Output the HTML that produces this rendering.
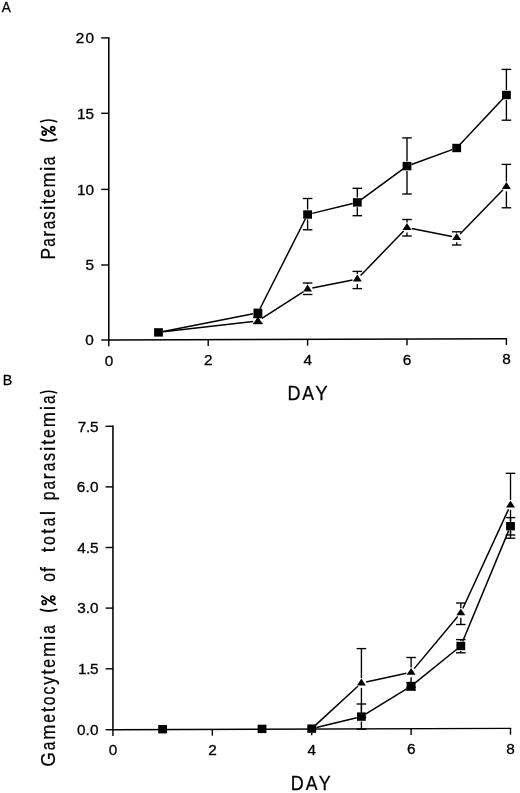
<!DOCTYPE html>
<html><head><meta charset="utf-8"><title>Figure</title>
<style>
html,body{margin:0;padding:0;background:#fff;}
body{width:520px;height:793px;overflow:hidden;font-family:"Liberation Sans",sans-serif;}
svg{display:block;}
text{font-family:"Liberation Sans",sans-serif;fill:#000;stroke:#000;stroke-width:0.3px;}
svg{will-change:transform;}
</style></head><body>
<svg width="520" height="793" viewBox="0 0 520 793">
<rect width="520" height="793" fill="#fff"/>
<line x1="108.80" y1="37.20" x2="108.80" y2="340.80" stroke="#000" stroke-width="1.55"/>
<line x1="108.80" y1="340.00" x2="507.10" y2="338.70" stroke="#000" stroke-width="1.55"/>
<line x1="101.20" y1="340.00" x2="108.80" y2="340.00" stroke="#000" stroke-width="1.4"/>
<line x1="101.20" y1="265.00" x2="108.80" y2="265.00" stroke="#000" stroke-width="1.4"/>
<line x1="101.20" y1="189.40" x2="108.80" y2="189.40" stroke="#000" stroke-width="1.4"/>
<line x1="101.20" y1="113.30" x2="108.80" y2="113.30" stroke="#000" stroke-width="1.4"/>
<line x1="101.20" y1="37.90" x2="108.80" y2="37.90" stroke="#000" stroke-width="1.4"/>
<line x1="108.80" y1="340.00" x2="108.80" y2="346.30" stroke="#000" stroke-width="1.4"/>
<line x1="208.20" y1="339.68" x2="208.20" y2="345.98" stroke="#000" stroke-width="1.4"/>
<line x1="307.60" y1="339.35" x2="307.60" y2="345.65" stroke="#000" stroke-width="1.4"/>
<line x1="407.00" y1="339.02" x2="407.00" y2="345.32" stroke="#000" stroke-width="1.4"/>
<line x1="506.40" y1="338.70" x2="506.40" y2="345.00" stroke="#000" stroke-width="1.4"/>
<text transform="translate(75.73,43.10) scale(1.03,1)" font-size="14.9" letter-spacing="1.166" font-weight="400">20</text>
<text transform="translate(77.03,118.50) scale(1.03,1)" font-size="14.9" letter-spacing="-0.055" font-weight="400">15</text>
<text transform="translate(77.03,194.60) scale(1.03,1)" font-size="14.9" letter-spacing="-0.099" font-weight="400">10</text>
<text transform="translate(85.39,270.20) scale(1.03,1)" font-size="14.9" letter-spacing="0.000" font-weight="400">5</text>
<text transform="translate(85.20,345.20) scale(1.03,1)" font-size="14.9" letter-spacing="0.000" font-weight="400">0</text>
<text transform="translate(104.63,365.50) scale(1.03,1)" font-size="14.9">0</text>
<text transform="translate(204.03,365.18) scale(1.03,1)" font-size="14.9">2</text>
<text transform="translate(303.48,364.85) scale(1.03,1)" font-size="14.9">4</text>
<text transform="translate(402.78,364.52) scale(1.03,1)" font-size="14.9">6</text>
<text transform="translate(502.23,364.20) scale(1.03,1)" font-size="14.9">8</text>
<line x1="163.21" y1="331.47" x2="253.19" y2="313.73" stroke="#000" stroke-width="1.5"/>
<line x1="260.07" y1="308.52" x2="305.43" y2="218.78" stroke="#000" stroke-width="1.5"/>
<line x1="312.26" y1="213.36" x2="352.64" y2="203.54" stroke="#000" stroke-width="1.5"/>
<line x1="361.18" y1="199.57" x2="403.12" y2="168.93" stroke="#000" stroke-width="1.5"/>
<line x1="411.51" y1="164.46" x2="452.19" y2="149.64" stroke="#000" stroke-width="1.5"/>
<line x1="459.98" y1="144.50" x2="503.12" y2="98.50" stroke="#000" stroke-width="1.5"/>
<line x1="163.27" y1="331.85" x2="253.13" y2="321.55" stroke="#000" stroke-width="1.5"/>
<line x1="261.94" y1="318.40" x2="303.56" y2="291.60" stroke="#000" stroke-width="1.5"/>
<line x1="312.31" y1="288.05" x2="352.59" y2="279.95" stroke="#000" stroke-width="1.5"/>
<line x1="360.63" y1="275.55" x2="403.67" y2="230.95" stroke="#000" stroke-width="1.5"/>
<line x1="411.71" y1="228.44" x2="451.99" y2="236.46" stroke="#000" stroke-width="1.5"/>
<line x1="460.05" y1="233.96" x2="503.05" y2="189.84" stroke="#000" stroke-width="1.5"/>
<line x1="307.60" y1="198.50" x2="307.60" y2="209.60" stroke="#000" stroke-width="1.35"/>
<line x1="307.60" y1="219.40" x2="307.60" y2="229.80" stroke="#000" stroke-width="1.35"/>
<line x1="302.80" y1="198.50" x2="312.40" y2="198.50" stroke="#000" stroke-width="1.35"/>
<line x1="302.80" y1="229.80" x2="312.40" y2="229.80" stroke="#000" stroke-width="1.35"/>
<line x1="357.30" y1="188.30" x2="357.30" y2="197.50" stroke="#000" stroke-width="1.35"/>
<line x1="357.30" y1="207.30" x2="357.30" y2="215.70" stroke="#000" stroke-width="1.35"/>
<line x1="352.50" y1="188.30" x2="362.10" y2="188.30" stroke="#000" stroke-width="1.35"/>
<line x1="352.50" y1="215.70" x2="362.10" y2="215.70" stroke="#000" stroke-width="1.35"/>
<line x1="407.00" y1="137.90" x2="407.00" y2="161.20" stroke="#000" stroke-width="1.35"/>
<line x1="407.00" y1="171.00" x2="407.00" y2="194.00" stroke="#000" stroke-width="1.35"/>
<line x1="402.20" y1="137.90" x2="411.80" y2="137.90" stroke="#000" stroke-width="1.35"/>
<line x1="402.20" y1="194.00" x2="411.80" y2="194.00" stroke="#000" stroke-width="1.35"/>
<line x1="506.40" y1="69.40" x2="506.40" y2="90.10" stroke="#000" stroke-width="1.35"/>
<line x1="506.40" y1="99.90" x2="506.40" y2="120.20" stroke="#000" stroke-width="1.35"/>
<line x1="501.60" y1="69.40" x2="511.20" y2="69.40" stroke="#000" stroke-width="1.35"/>
<line x1="501.60" y1="120.20" x2="511.20" y2="120.20" stroke="#000" stroke-width="1.35"/>
<line x1="253.10" y1="317.50" x2="262.70" y2="317.50" stroke="#000" stroke-width="1.35"/>
<line x1="253.10" y1="323.50" x2="262.70" y2="323.50" stroke="#000" stroke-width="1.35"/>
<line x1="307.60" y1="283.00" x2="307.60" y2="284.10" stroke="#000" stroke-width="1.35"/>
<line x1="307.60" y1="293.90" x2="307.60" y2="294.50" stroke="#000" stroke-width="1.35"/>
<line x1="302.80" y1="283.00" x2="312.40" y2="283.00" stroke="#000" stroke-width="1.35"/>
<line x1="302.80" y1="294.50" x2="312.40" y2="294.50" stroke="#000" stroke-width="1.35"/>
<line x1="357.30" y1="271.40" x2="357.30" y2="274.10" stroke="#000" stroke-width="1.35"/>
<line x1="357.30" y1="283.90" x2="357.30" y2="288.60" stroke="#000" stroke-width="1.35"/>
<line x1="352.50" y1="271.40" x2="362.10" y2="271.40" stroke="#000" stroke-width="1.35"/>
<line x1="352.50" y1="288.60" x2="362.10" y2="288.60" stroke="#000" stroke-width="1.35"/>
<line x1="407.00" y1="219.50" x2="407.00" y2="222.60" stroke="#000" stroke-width="1.35"/>
<line x1="407.00" y1="232.40" x2="407.00" y2="236.00" stroke="#000" stroke-width="1.35"/>
<line x1="402.20" y1="219.50" x2="411.80" y2="219.50" stroke="#000" stroke-width="1.35"/>
<line x1="402.20" y1="236.00" x2="411.80" y2="236.00" stroke="#000" stroke-width="1.35"/>
<line x1="456.70" y1="231.80" x2="456.70" y2="232.50" stroke="#000" stroke-width="1.35"/>
<line x1="456.70" y1="242.30" x2="456.70" y2="245.00" stroke="#000" stroke-width="1.35"/>
<line x1="451.90" y1="231.80" x2="461.50" y2="231.80" stroke="#000" stroke-width="1.35"/>
<line x1="451.90" y1="245.00" x2="461.50" y2="245.00" stroke="#000" stroke-width="1.35"/>
<line x1="506.40" y1="164.40" x2="506.40" y2="181.50" stroke="#000" stroke-width="1.35"/>
<line x1="506.40" y1="191.30" x2="506.40" y2="207.80" stroke="#000" stroke-width="1.35"/>
<line x1="501.60" y1="164.40" x2="511.20" y2="164.40" stroke="#000" stroke-width="1.35"/>
<line x1="501.60" y1="207.80" x2="511.20" y2="207.80" stroke="#000" stroke-width="1.35"/>
<polygon points="257.90,316.60 262.35,323.50 253.45,323.50" fill="#000"/>
<polygon points="307.60,284.60 312.05,291.50 303.15,291.50" fill="#000"/>
<polygon points="357.30,274.60 361.75,281.50 352.85,281.50" fill="#000"/>
<polygon points="407.00,223.10 411.45,230.00 402.55,230.00" fill="#000"/>
<polygon points="456.70,233.00 461.15,239.90 452.25,239.90" fill="#000"/>
<polygon points="506.40,182.00 510.85,188.90 501.95,188.90" fill="#000"/>
<rect x="154.10" y="328.20" width="8.8" height="8.4" fill="#000"/>
<rect x="253.50" y="308.60" width="8.8" height="8.4" fill="#000"/>
<rect x="303.20" y="210.30" width="8.8" height="8.4" fill="#000"/>
<rect x="352.90" y="198.20" width="8.8" height="8.4" fill="#000"/>
<rect x="402.60" y="161.90" width="8.8" height="8.4" fill="#000"/>
<rect x="452.30" y="143.80" width="8.8" height="8.4" fill="#000"/>
<rect x="502.00" y="90.80" width="8.8" height="8.4" fill="#000"/>
<text transform="translate(287.42,399.90) scale(0.894,1)" font-size="20.2" style="stroke-width:0.25px">D</text>
<text transform="translate(302.27,399.90) scale(0.874,1)" font-size="20.2" style="stroke-width:0.25px">A</text>
<text transform="translate(315.19,399.90) scale(0.922,1)" font-size="20.2" style="stroke-width:0.25px">Y</text>
<text transform="translate(55.20,259.62) rotate(-90) scale(0.88,1)" font-size="19.7" style="stroke-width:0.25px">P</text>
<text transform="translate(55.20,246.64) rotate(-90) scale(0.78,1)" font-size="19.7" style="stroke-width:0.25px">a</text>
<text transform="translate(55.20,236.67) rotate(-90) scale(0.9,1)" font-size="19.7" style="stroke-width:0.25px">r</text>
<text transform="translate(55.20,229.35) rotate(-90) scale(0.78,1)" font-size="19.7" style="stroke-width:0.25px">a</text>
<text transform="translate(55.20,219.38) rotate(-90) scale(0.82,1)" font-size="19.7" style="stroke-width:0.25px">s</text>
<text transform="translate(55.20,209.89) rotate(-90) scale(1.0,1)" font-size="19.7" style="stroke-width:0.25px">i</text>
<text transform="translate(55.20,204.09) rotate(-90) scale(0.9,1)" font-size="19.7" style="stroke-width:0.25px">t</text>
<text transform="translate(55.20,197.74) rotate(-90) scale(0.8,1)" font-size="19.7" style="stroke-width:0.25px">e</text>
<text transform="translate(55.20,187.56) rotate(-90) scale(0.92,1)" font-size="19.7" style="stroke-width:0.25px">m</text>
<text transform="translate(55.20,171.04) rotate(-90) scale(1.0,1)" font-size="19.7" style="stroke-width:0.25px">i</text>
<text transform="translate(55.20,165.25) rotate(-90) scale(0.78,1)" font-size="19.7" style="stroke-width:0.25px">a</text>
<path d="M40.5,139.40 Q48.6,142.40 56.7,139.40" fill="none" stroke="#000" stroke-width="1.8" stroke-linecap="round"/>
<circle cx="44.2" cy="133.10" r="2.0" fill="none" stroke="#000" stroke-width="1.7"/>
<circle cx="52.7" cy="128.60" r="2.0" fill="none" stroke="#000" stroke-width="1.7"/>
<line x1="41.8" y1="126.70" x2="55.2" y2="134.90" stroke="#000" stroke-width="1.7" stroke-linecap="round"/>
<path d="M40.5,121.70 Q48.6,118.30 56.7,121.70" fill="none" stroke="#000" stroke-width="1.5" stroke-linecap="round"/>
<text transform="translate(1.87,11.90) scale(0.93,1)" font-size="14.6" letter-spacing="0.000" font-weight="400" style="stroke-width:0.3px">A</text>
<line x1="112.95" y1="425.60" x2="112.95" y2="730.50" stroke="#000" stroke-width="1.55"/>
<line x1="112.95" y1="729.70" x2="511.20" y2="728.35" stroke="#000" stroke-width="1.35"/>
<line x1="105.60" y1="729.70" x2="112.95" y2="729.70" stroke="#000" stroke-width="1.4"/>
<line x1="105.60" y1="668.80" x2="112.95" y2="668.80" stroke="#000" stroke-width="1.4"/>
<line x1="105.60" y1="608.10" x2="112.95" y2="608.10" stroke="#000" stroke-width="1.4"/>
<line x1="105.60" y1="547.50" x2="112.95" y2="547.50" stroke="#000" stroke-width="1.4"/>
<line x1="105.60" y1="486.90" x2="112.95" y2="486.90" stroke="#000" stroke-width="1.4"/>
<line x1="105.60" y1="426.30" x2="112.95" y2="426.30" stroke="#000" stroke-width="1.4"/>
<line x1="112.95" y1="729.70" x2="112.95" y2="736.00" stroke="#000" stroke-width="1.4"/>
<line x1="212.34" y1="729.36" x2="212.34" y2="735.66" stroke="#000" stroke-width="1.4"/>
<line x1="311.73" y1="729.03" x2="311.73" y2="735.33" stroke="#000" stroke-width="1.4"/>
<line x1="411.11" y1="728.69" x2="411.11" y2="734.99" stroke="#000" stroke-width="1.4"/>
<line x1="510.50" y1="728.35" x2="510.50" y2="734.65" stroke="#000" stroke-width="1.4"/>
<text transform="translate(77.81,431.50) scale(1.03,1)" font-size="14.9" letter-spacing="-0.244" font-weight="400">7.5</text>
<text transform="translate(76.72,492.10) scale(1.03,1)" font-size="14.9" letter-spacing="0.264" font-weight="400">6.0</text>
<text transform="translate(77.25,552.70) scale(1.03,1)" font-size="14.9" letter-spacing="0.030" font-weight="400">4.5</text>
<text transform="translate(77.22,613.30) scale(1.03,1)" font-size="14.9" letter-spacing="0.024" font-weight="400">3.0</text>
<text transform="translate(78.03,674.00) scale(1.03,1)" font-size="14.9" letter-spacing="-0.350" font-weight="400">1.5</text>
<text transform="translate(76.90,734.90) scale(1.03,1)" font-size="14.9" letter-spacing="0.177" font-weight="400">0.0</text>
<text transform="translate(108.78,755.20) scale(1.03,1)" font-size="14.9">0</text>
<text transform="translate(208.17,754.86) scale(1.03,1)" font-size="14.9">2</text>
<text transform="translate(307.61,754.53) scale(1.03,1)" font-size="14.9">4</text>
<text transform="translate(406.89,754.19) scale(1.03,1)" font-size="14.9">6</text>
<text transform="translate(506.33,753.85) scale(1.03,1)" font-size="14.9">8</text>
<line x1="316.39" y1="727.50" x2="356.75" y2="717.73" stroke="#000" stroke-width="1.5"/>
<line x1="365.51" y1="714.10" x2="407.02" y2="688.70" stroke="#000" stroke-width="1.5"/>
<line x1="414.84" y1="683.18" x2="457.07" y2="649.02" stroke="#000" stroke-width="1.5"/>
<line x1="462.65" y1="641.57" x2="508.66" y2="530.63" stroke="#000" stroke-width="1.5"/>
<line x1="315.26" y1="725.38" x2="357.88" y2="686.25" stroke="#000" stroke-width="1.5"/>
<line x1="366.11" y1="681.99" x2="406.42" y2="673.31" stroke="#000" stroke-width="1.5"/>
<line x1="414.19" y1="668.62" x2="457.73" y2="616.48" stroke="#000" stroke-width="1.5"/>
<line x1="462.82" y1="608.44" x2="508.49" y2="509.36" stroke="#000" stroke-width="1.5"/>
<line x1="361.42" y1="704.00" x2="361.42" y2="711.70" stroke="#000" stroke-width="1.35"/>
<line x1="361.42" y1="721.50" x2="361.42" y2="729.20" stroke="#000" stroke-width="1.35"/>
<line x1="356.62" y1="704.00" x2="366.22" y2="704.00" stroke="#000" stroke-width="1.35"/>
<line x1="356.62" y1="729.20" x2="366.22" y2="729.20" stroke="#000" stroke-width="1.35"/>
<line x1="406.31" y1="682.50" x2="415.91" y2="682.50" stroke="#000" stroke-width="1.35"/>
<line x1="406.31" y1="690.00" x2="415.91" y2="690.00" stroke="#000" stroke-width="1.35"/>
<line x1="460.81" y1="639.60" x2="460.81" y2="641.10" stroke="#000" stroke-width="1.35"/>
<line x1="460.81" y1="650.90" x2="460.81" y2="652.80" stroke="#000" stroke-width="1.35"/>
<line x1="456.01" y1="639.60" x2="465.61" y2="639.60" stroke="#000" stroke-width="1.35"/>
<line x1="456.01" y1="652.80" x2="465.61" y2="652.80" stroke="#000" stroke-width="1.35"/>
<line x1="510.50" y1="517.60" x2="510.50" y2="521.30" stroke="#000" stroke-width="1.35"/>
<line x1="510.50" y1="531.10" x2="510.50" y2="535.00" stroke="#000" stroke-width="1.35"/>
<line x1="505.70" y1="517.60" x2="515.30" y2="517.60" stroke="#000" stroke-width="1.35"/>
<line x1="505.70" y1="535.00" x2="515.30" y2="535.00" stroke="#000" stroke-width="1.35"/>
<line x1="361.42" y1="648.60" x2="361.42" y2="678.10" stroke="#000" stroke-width="1.35"/>
<line x1="361.42" y1="687.90" x2="361.42" y2="717.40" stroke="#000" stroke-width="1.35"/>
<line x1="356.62" y1="648.60" x2="366.22" y2="648.60" stroke="#000" stroke-width="1.35"/>
<line x1="356.62" y1="717.40" x2="366.22" y2="717.40" stroke="#000" stroke-width="1.35"/>
<line x1="411.11" y1="657.50" x2="411.11" y2="667.40" stroke="#000" stroke-width="1.35"/>
<line x1="411.11" y1="677.20" x2="411.11" y2="687.00" stroke="#000" stroke-width="1.35"/>
<line x1="406.31" y1="657.50" x2="415.91" y2="657.50" stroke="#000" stroke-width="1.35"/>
<line x1="406.31" y1="687.00" x2="415.91" y2="687.00" stroke="#000" stroke-width="1.35"/>
<line x1="460.81" y1="603.00" x2="460.81" y2="607.90" stroke="#000" stroke-width="1.35"/>
<line x1="460.81" y1="617.70" x2="460.81" y2="624.50" stroke="#000" stroke-width="1.35"/>
<line x1="456.01" y1="603.00" x2="465.61" y2="603.00" stroke="#000" stroke-width="1.35"/>
<line x1="456.01" y1="624.50" x2="465.61" y2="624.50" stroke="#000" stroke-width="1.35"/>
<line x1="510.50" y1="473.30" x2="510.50" y2="500.10" stroke="#000" stroke-width="1.35"/>
<line x1="510.50" y1="509.90" x2="510.50" y2="538.20" stroke="#000" stroke-width="1.35"/>
<line x1="505.70" y1="473.30" x2="515.30" y2="473.30" stroke="#000" stroke-width="1.35"/>
<line x1="505.70" y1="538.20" x2="515.30" y2="538.20" stroke="#000" stroke-width="1.35"/>
<polygon points="361.42,678.60 365.87,685.50 356.97,685.50" fill="#000"/>
<polygon points="411.11,667.90 415.56,674.80 406.66,674.80" fill="#000"/>
<polygon points="460.81,608.40 465.26,615.30 456.36,615.30" fill="#000"/>
<polygon points="510.50,500.60 514.95,507.50 506.05,507.50" fill="#000"/>
<rect x="158.24" y="725.03" width="8.8" height="8.4" fill="#000"/>
<rect x="257.63" y="724.69" width="8.8" height="8.4" fill="#000"/>
<rect x="307.33" y="724.43" width="8.8" height="8.4" fill="#000"/>
<rect x="357.02" y="712.40" width="8.8" height="8.4" fill="#000"/>
<rect x="406.71" y="682.00" width="8.8" height="8.4" fill="#000"/>
<rect x="456.41" y="641.80" width="8.8" height="8.4" fill="#000"/>
<rect x="506.10" y="522.00" width="8.8" height="8.4" fill="#000"/>
<text transform="translate(290.72,789.80) scale(0.894,1)" font-size="20.2" style="stroke-width:0.25px">D</text>
<text transform="translate(305.77,789.80) scale(0.874,1)" font-size="20.2" style="stroke-width:0.25px">A</text>
<text transform="translate(318.81,789.80) scale(0.890,1)" font-size="20.2" style="stroke-width:0.25px">Y</text>
<text transform="translate(55.20,766.85) rotate(-90) scale(0.96,1)" font-size="19.7" style="stroke-width:0.25px">G</text>
<text transform="translate(55.20,750.23) rotate(-90) scale(0.78,1)" font-size="19.7" style="stroke-width:0.25px">a</text>
<text transform="translate(55.20,739.78) rotate(-90) scale(0.92,1)" font-size="19.7" style="stroke-width:0.25px">m</text>
<text transform="translate(55.20,722.78) rotate(-90) scale(0.8,1)" font-size="19.7" style="stroke-width:0.25px">e</text>
<text transform="translate(55.20,712.11) rotate(-90) scale(0.9,1)" font-size="19.7" style="stroke-width:0.25px">t</text>
<text transform="translate(55.20,705.27) rotate(-90) scale(0.8,1)" font-size="19.7" style="stroke-width:0.25px">o</text>
<text transform="translate(55.20,694.60) rotate(-90) scale(0.8,1)" font-size="19.7" style="stroke-width:0.25px">c</text>
<text transform="translate(55.20,684.82) rotate(-90) scale(0.85,1)" font-size="19.7" style="stroke-width:0.25px">y</text>
<text transform="translate(55.20,674.54) rotate(-90) scale(0.9,1)" font-size="19.7" style="stroke-width:0.25px">t</text>
<text transform="translate(55.20,667.70) rotate(-90) scale(0.8,1)" font-size="19.7" style="stroke-width:0.25px">e</text>
<text transform="translate(55.20,657.03) rotate(-90) scale(0.92,1)" font-size="19.7" style="stroke-width:0.25px">m</text>
<text transform="translate(55.20,640.03) rotate(-90) scale(1.0,1)" font-size="19.7" style="stroke-width:0.25px">i</text>
<text transform="translate(55.20,633.75) rotate(-90) scale(0.78,1)" font-size="19.7" style="stroke-width:0.25px">a</text>
<path d="M40.5,609.50 Q48.6,612.50 56.7,609.50" fill="none" stroke="#000" stroke-width="1.8" stroke-linecap="round"/>
<circle cx="44.2" cy="602.50" r="2.0" fill="none" stroke="#000" stroke-width="1.7"/>
<circle cx="52.7" cy="598.00" r="2.0" fill="none" stroke="#000" stroke-width="1.7"/>
<line x1="41.8" y1="596.10" x2="55.2" y2="604.30" stroke="#000" stroke-width="1.7" stroke-linecap="round"/>
<text transform="translate(55.20,581.66) rotate(-90) scale(0.8,1)" font-size="19.7" style="stroke-width:0.25px">o</text>
<text transform="translate(55.20,571.95) rotate(-90) scale(0.9,1)" font-size="19.7" style="stroke-width:0.25px">f</text>
<text transform="translate(55.20,552.37) rotate(-90) scale(0.9,1)" font-size="19.7" style="stroke-width:0.25px">t</text>
<text transform="translate(55.20,544.98) rotate(-90) scale(0.8,1)" font-size="19.7" style="stroke-width:0.25px">o</text>
<text transform="translate(55.20,533.75) rotate(-90) scale(0.9,1)" font-size="19.7" style="stroke-width:0.25px">t</text>
<text transform="translate(55.20,526.37) rotate(-90) scale(0.78,1)" font-size="19.7" style="stroke-width:0.25px">a</text>
<text transform="translate(55.20,515.36) rotate(-90) scale(1.0,1)" font-size="19.7" style="stroke-width:0.25px">l</text>
<text transform="translate(55.20,500.22) rotate(-90) scale(0.8,1)" font-size="19.7" style="stroke-width:0.25px">p</text>
<text transform="translate(55.20,489.57) rotate(-90) scale(0.78,1)" font-size="19.7" style="stroke-width:0.25px">a</text>
<text transform="translate(55.20,479.15) rotate(-90) scale(0.9,1)" font-size="19.7" style="stroke-width:0.25px">r</text>
<text transform="translate(55.20,471.36) rotate(-90) scale(0.78,1)" font-size="19.7" style="stroke-width:0.25px">a</text>
<text transform="translate(55.20,460.94) rotate(-90) scale(0.82,1)" font-size="19.7" style="stroke-width:0.25px">s</text>
<text transform="translate(55.20,450.98) rotate(-90) scale(1.0,1)" font-size="19.7" style="stroke-width:0.25px">i</text>
<text transform="translate(55.20,444.73) rotate(-90) scale(0.9,1)" font-size="19.7" style="stroke-width:0.25px">t</text>
<text transform="translate(55.20,437.92) rotate(-90) scale(0.8,1)" font-size="19.7" style="stroke-width:0.25px">e</text>
<text transform="translate(55.20,427.28) rotate(-90) scale(0.92,1)" font-size="19.7" style="stroke-width:0.25px">m</text>
<text transform="translate(55.20,410.30) rotate(-90) scale(1.0,1)" font-size="19.7" style="stroke-width:0.25px">i</text>
<text transform="translate(55.20,404.05) rotate(-90) scale(0.78,1)" font-size="19.7" style="stroke-width:0.25px">a</text>
<path d="M40.5,392.90 Q48.6,389.50 56.7,392.90" fill="none" stroke="#000" stroke-width="1.5" stroke-linecap="round"/>
<text transform="translate(2.83,384.50) scale(0.95,1)" font-size="15.0" letter-spacing="0.000" font-weight="400" style="stroke-width:0.3px">B</text>
</svg>
</body></html>
